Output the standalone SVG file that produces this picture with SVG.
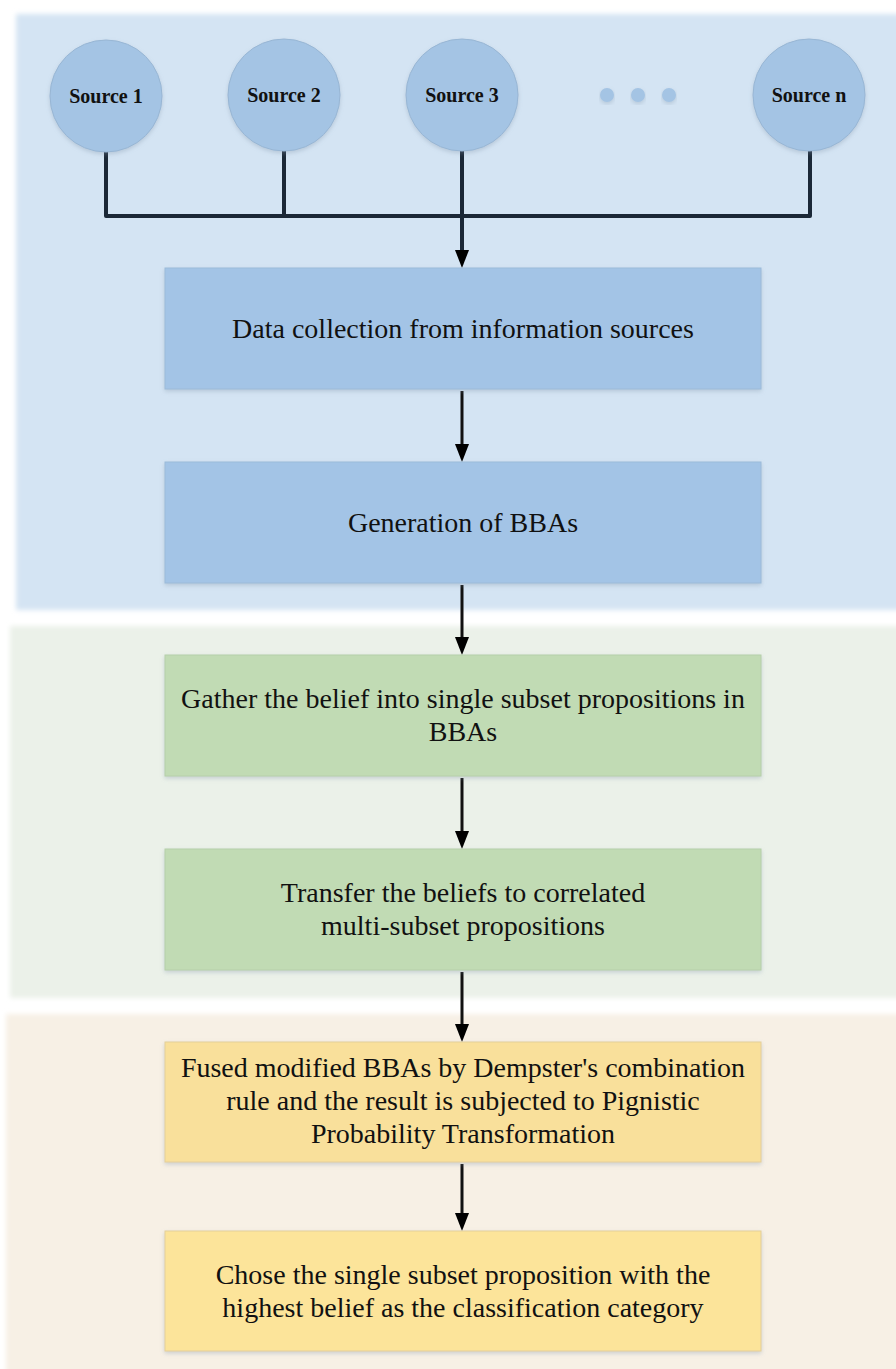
<svg xmlns="http://www.w3.org/2000/svg" width="896" height="1369" viewBox="0 0 896 1369">
<defs>
<filter id="soft" x="-5%" y="-5%" width="110%" height="110%"><feGaussianBlur stdDeviation="2.5"/></filter>
<filter id="shadow" x="-5%" y="-10%" width="110%" height="125%"><feDropShadow dx="0" dy="2" stdDeviation="2" flood-color="#7f93a8" flood-opacity="0.35"/></filter>
<marker id="arrow" viewBox="0 0 14 18" refX="7" refY="18" markerWidth="14" markerHeight="18" markerUnits="userSpaceOnUse" orient="auto-start-reverse"><path d="M0,0 L14,0 L7,18 Z" fill="#000"/></marker>
<marker id="arrowDown" viewBox="0 0 14 18" refX="14" refY="7" markerWidth="18" markerHeight="14" markerUnits="userSpaceOnUse" orient="auto"><path d="M0,0 L18,7 L0,14 Z" fill="#000"/></marker>
</defs>
<style>
.src{fill:#a4c4e4;stroke:#98b6d4;stroke-width:1}
.dot{fill:#a4c4e4}
.blue{fill:#a3c4e6;stroke:#9cbbd9;stroke-width:1}
.green{fill:#c1dbb4;stroke:#b6cfaa;stroke-width:1}
.yellow{fill:#f9e09b;stroke:#e4cf9a;stroke-width:1}
.yellow2{fill:#fce49a;stroke:#e4cf9a;stroke-width:1}
.lbl{font-family:"Liberation Serif","Times New Roman",serif;font-size:28px;fill:#111;text-anchor:middle}
.slbl{font-family:"Liberation Serif","Times New Roman",serif;font-size:20px;font-weight:bold;fill:#111;text-anchor:middle}
.bus{fill:none;stroke:#1b2837;stroke-width:4;stroke-linejoin:round}
.flow{fill:none;stroke:#111;stroke-width:3}
</style>
<rect width="896" height="1369" fill="#ffffff"/>
<g id="panels">
<rect x="16" y="14" width="890" height="596" fill="#d4e4f3" filter="url(#soft)"/>
<rect x="10" y="626" width="896" height="372" fill="#ebf1e9" filter="url(#soft)"/>
<rect x="6" y="1014" width="900" height="365" fill="#f7f0e5" filter="url(#soft)"/>
</g>
<g id="connectors">
<path class="bus" d="M106,151 V216 H810 V151"/>
<path class="bus" d="M284,151 V216"/>
<path class="bus" d="M462,151 V252"/>
<path d="M455,250 L469,250 L462,268 Z" fill="#000"/>
<line class="flow" x1="462" y1="391" x2="462" y2="446"/>
<path d="M455,444 L469,444 L462,462 Z" fill="#000"/>
<line class="flow" x1="462" y1="585" x2="462" y2="639"/>
<path d="M455,637 L469,637 L462,655 Z" fill="#000"/>
<line class="flow" x1="462" y1="778" x2="462" y2="833"/>
<path d="M455,831 L469,831 L462,849 Z" fill="#000"/>
<line class="flow" x1="462" y1="972" x2="462" y2="1026"/>
<path d="M455,1024 L469,1024 L462,1042 Z" fill="#000"/>
<line class="flow" x1="462" y1="1164" x2="462" y2="1215"/>
<path d="M455,1213 L469,1213 L462,1231 Z" fill="#000"/>
</g>
<g id="source1"><circle class="src" cx="106" cy="96" r="56" filter="url(#shadow)"/><text class="slbl" x="106" y="103">Source 1</text></g>
<g id="source2"><circle class="src" cx="284" cy="95" r="56" filter="url(#shadow)"/><text class="slbl" x="284" y="102">Source 2</text></g>
<g id="source3"><circle class="src" cx="462" cy="95" r="56" filter="url(#shadow)"/><text class="slbl" x="462" y="102">Source 3</text></g>
<g id="ellipsis"><circle class="dot" cx="607" cy="95" r="7" filter="url(#shadow)"/><circle class="dot" cx="638" cy="95" r="7" filter="url(#shadow)"/><circle class="dot" cx="669" cy="95" r="7" filter="url(#shadow)"/></g>
<g id="sourcen"><circle class="src" cx="809" cy="95" r="56" filter="url(#shadow)"/><text class="slbl" x="809" y="102">Source n</text></g>
<g id="step1"><rect class="blue" x="165" y="268" width="596" height="121" filter="url(#shadow)"/><text class="lbl" x="463" y="338">Data collection from information sources</text></g>
<g id="step2"><rect class="blue" x="165" y="462" width="596" height="121" filter="url(#shadow)"/><text class="lbl" x="463" y="532">Generation of BBAs</text></g>
<g id="step3"><rect class="green" x="165" y="655" width="596" height="121" filter="url(#shadow)"/><text class="lbl" x="463" y="708">Gather the belief into single subset propositions in</text><text class="lbl" x="463" y="741">BBAs</text></g>
<g id="step4"><rect class="green" x="165" y="849" width="596" height="121" filter="url(#shadow)"/><text class="lbl" x="463" y="902">Transfer the beliefs to correlated</text><text class="lbl" x="463" y="935">multi-subset propositions</text></g>
<g id="step5"><rect class="yellow" x="165" y="1042" width="596" height="120" filter="url(#shadow)"/><text class="lbl" x="463" y="1077">Fused modified BBAs by Dempster's combination</text><text class="lbl" x="463" y="1110">rule and the result is subjected to Pignistic</text><text class="lbl" x="463" y="1143">Probability Transformation</text></g>
<g id="step6"><rect class="yellow2" x="165" y="1231" width="596" height="120" filter="url(#shadow)"/><text class="lbl" x="463" y="1284">Chose the single subset proposition with the</text><text class="lbl" x="463" y="1317">highest belief as the classification category</text></g>
</svg>
